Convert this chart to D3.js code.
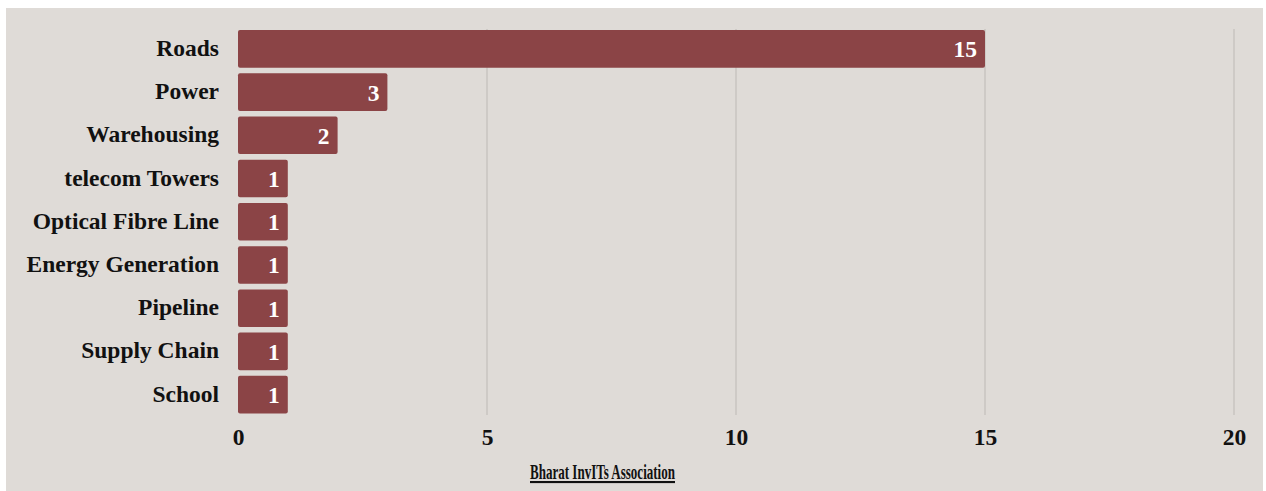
<!DOCTYPE html>
<html>
<head>
<meta charset="utf-8">
<script src="https://cdn.jsdelivr.net/npm/d3@7"></script>
<style>
	body { margin: 0; background: #ffffff; }
	svg { display: block; }
</style>
</head>
<body>
<svg id="chart"></svg>
<script>
var width = 1266,
	height = 491;

// data
var categories = ["Roads", "Power", "Warehousing", "telecom Towers", "Optical Fibre Line",
	"Energy Generation", "Pipeline", "Supply Chain", "School"];
var counts = [15, 3, 2, 1, 1, 1, 1, 1, 1];
var xTicks = [0, 5, 10, 15, 20];
var axisTitle = "Bharat InvITs Association";

var serif = "'Liberation Serif'";

var svg = d3.select("#chart")
	.attr("width", width)
	.attr("height", height);

// panel background
svg.append("rect")
	.attr("x", 6)
	.attr("y", 8)
	.attr("width", 1257)
	.attr("height", 483)
	.attr("fill", "#dfdbd7");

var x = d3.scaleLinear().domain([0, 20]).range([238, 1234]);
var y = d3.scaleBand().domain(categories).range([27.5, 416]).paddingInner(0.13).paddingOuter(0.06);

// gridlines
svg.append("g")
	.selectAll("line")
	.data(xTicks.slice(1))
	.enter()
	.append("line")
	.attr("x1", d => x(d))
	.attr("x2", d => x(d))
	.attr("y1", 29)
	.attr("y2", 415)
	.attr("stroke", "#c9c5c1")
	.attr("stroke-width", 1.5);

// bars
svg.append("g")
	.selectAll("rect")
	.data(categories)
	.enter()
	.append("rect")
	.attr("x", x(0))
	.attr("y", d => y(d))
	.attr("width", (d, i) => x(counts[i]) - x(0))
	.attr("height", y.bandwidth())
	.attr("rx", 2)
	.attr("fill", "#8b4446");

// value labels
svg.append("g")
	.selectAll("text")
	.data(categories)
	.enter()
	.append("text")
	.attr("x", (d, i) => x(counts[i]) - 8)
	.attr("y", d => y(d) + y.bandwidth() / 2)
	.attr("dy", "0.36em")
	.attr("text-anchor", "end")
	.attr("fill", "#ffffff")
	.style("font-family", serif)
	.style("font-weight", "bold")
	.style("font-size", "23.5px")
	.text((d, i) => counts[i]);

// category axis
var yAxis = svg.append("g")
	.attr("transform", "translate(" + (x(0) - 19) + ",0)")
	.call(d3.axisLeft(y).tickSize(0).tickPadding(0));
yAxis.select(".domain").remove();
yAxis.selectAll("text")
	.attr("dy", "0.3em")
	.attr("fill", "#111111")
	.style("font-family", serif)
	.style("font-weight", "bold")
	.style("font-size", "23.5px");

// value axis
var xAxis = svg.append("g")
	.attr("transform", "translate(0,428)")
	.call(d3.axisBottom(x).tickValues(xTicks).tickSize(0).tickPadding(0));
xAxis.select(".domain").remove();
xAxis.selectAll("text")
	.attr("dy", "0.71em")
	.attr("fill", "#111111")
	.style("font-family", serif)
	.style("font-weight", "bold")
	.style("font-size", "23.5px");

// axis title
svg.append("text")
	.attr("x", 530)
	.attr("y", 479)
	.attr("textLength", 145)
	.attr("lengthAdjust", "spacingAndGlyphs")
	.attr("fill", "#111111")
	.style("font-family", serif)
	.style("font-weight", "bold")
	.style("font-size", "21px")
	.style("text-decoration", "underline")
	.text(axisTitle);
</script>
</body>
</html>
